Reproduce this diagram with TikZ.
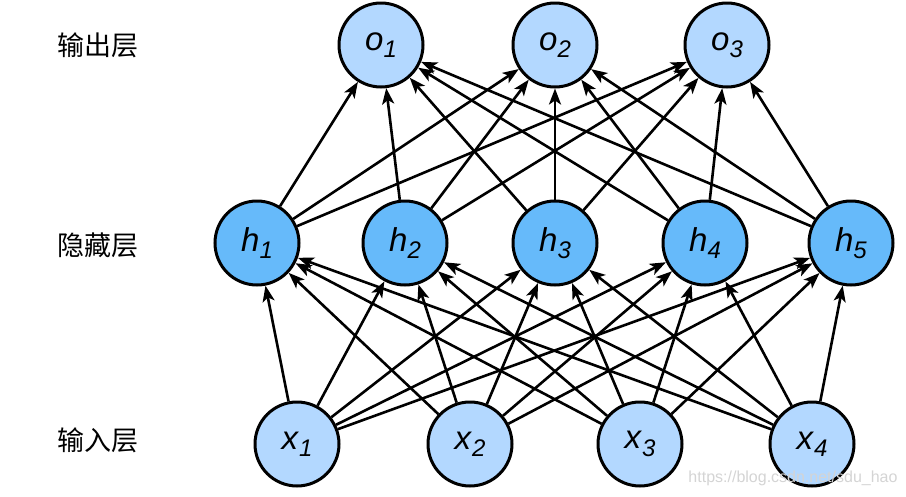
\documentclass[tikz,border=0pt]{standalone}
\usepackage{fontspec}
\setmainfont{Liberation Sans}
\newfontfamily\cjk{Noto Sans CJK SC}
\usepackage{xcolor}
\usetikzlibrary{arrows.meta}

\definecolor{paleblue}{RGB}{179,216,255}
\definecolor{midblue}{RGB}{102,186,250}

% unit label: italic letter with a lowered italic index
\newcommand{\unitlbl}[2]{\textit{#1}\raisebox{-0.22em}{\fontsize{24}{24}\selectfont\textit{#2}}}

\begin{document}
\begin{tikzpicture}[
        x=1pt, y=-1pt, % pixel-like grid, y pointing down
        neuron/.style={circle, draw, line width=3pt, minimum size=84pt, inner sep=0pt,
            font=\fontsize{33}{33}\selectfont},
        outer/.style={neuron, fill=paleblue},
        hidden/.style={neuron, fill=midblue},
        conn/.style={-{Stealth[length=16pt, width=12pt, inset=4pt]}, line width=2.6pt},
        layername/.style={font=\cjk\fontsize{27}{27}\selectfont},
        wmark/.style={text=black!17, font=\fontsize{16}{16}\selectfont}
    ]
        \useasboundingbox (0,0) rectangle (906,496);

        % Layers
        \foreach \k/\px in {1/381, 2/555, 3/727}
            \node[outer] (o\k) at (\px,45) {\unitlbl{o}{\k}};
        \foreach \j/\px in {1/257, 2/405, 3/555, 4/705, 5/851}
            \node[hidden] (h\j) at (\px,243) {\unitlbl{h}{\j}};
        \foreach \i/\px in {1/297, 2/470, 3/640, 4/812}
            \node[outer] (x\i) at (\px,444) {\unitlbl{x}{\i}};

        % Layer names
        \node[layername] (outname) at (98,45) {输出层};
        \node[layername] (hidname) at (98,245) {隐藏层};
        \node[layername] (inname) at (98,440) {输入层};

        % Connections
        \foreach \i in {1,...,4}
            \foreach \j in {1,...,5}
                \draw[conn] (x\i) -- (h\j);
        \foreach \j in {1,...,5}
            \foreach \k in {1,2,3}
                \draw[conn] (h\j) -- (o\k);

        % Watermark
        \node[wmark] (url) at (793,478) {https://blog.csdn.net/sdu\_hao};

    \end{tikzpicture}
\end{document}
